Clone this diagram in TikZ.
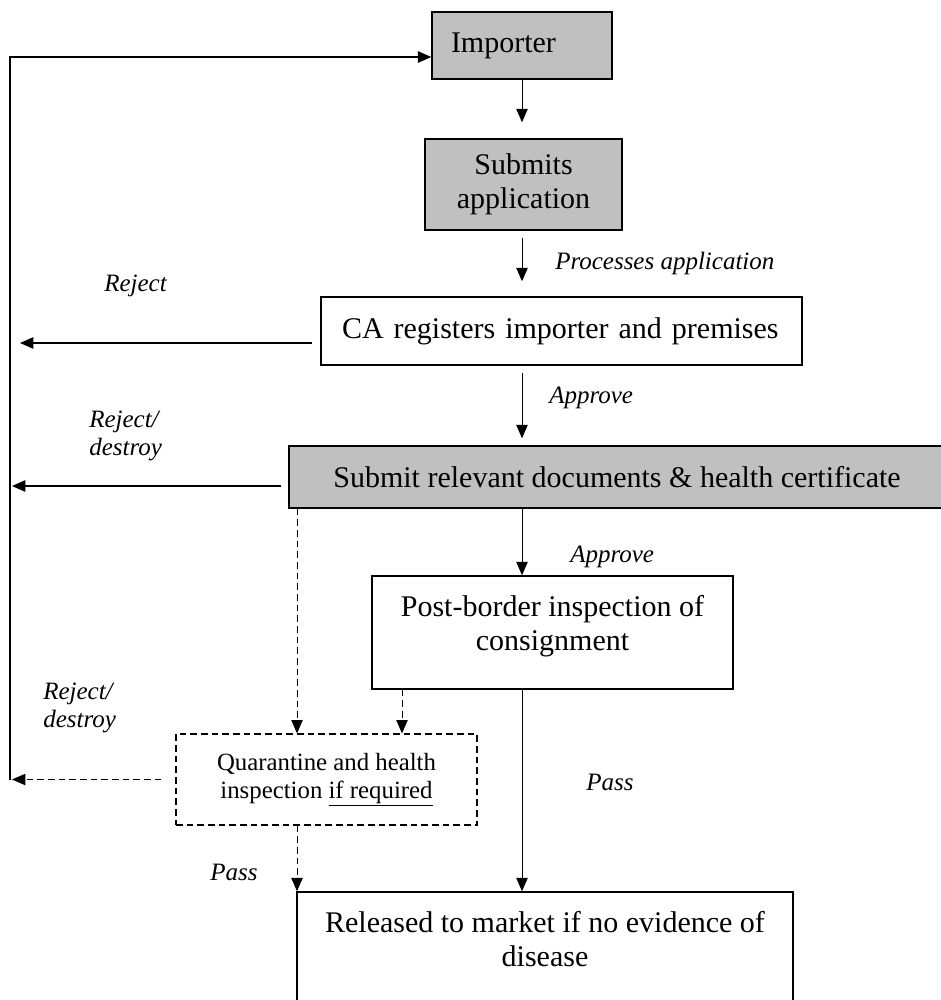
\documentclass[tikz,border=0pt]{standalone}
\usepackage{fontspec}
\setmainfont{Liberation Serif}
\usetikzlibrary{arrows.meta}
\definecolor{boxgrey}{RGB}{192,192,192}
\newcommand\mainsz{\fontsize{22.5pt}{25.5pt}\selectfont}
\newcommand\lblsz{\fontsize{18.75pt}{21pt}\selectfont}
\newcommand\qsz{\fontsize{18.6pt}{21pt}\selectfont}
\begin{document}
\begin{tikzpicture}[x=0.75pt,y=-0.75pt,
  box/.style={draw, line width=1.1pt, rectangle, inner sep=0pt, font=\mainsz, align=center},
  greybox/.style={box, fill=boxgrey},
  flow/.style={-{Triangle[length=10pt,width=8.5pt]}, line width=0.75pt},
  dflow/.style={flow, dash pattern=on 5pt off 3pt},
  rejflow/.style={-{Triangle[length=10pt,width=8.5pt]}, line width=1.2pt},
  lbl/.style={font=\lblsz\itshape, inner sep=0pt, anchor=west, align=left}]
\useasboundingbox (0,0) rectangle (940,1000);

% boxes
\node[greybox, align=left, text width=106.5pt, inner xsep=14.25pt, minimum height=50.25pt] (imp) at (522,45.5) {Importer};
\node[greybox, minimum width=147.75pt, minimum height=68.25pt] (sub) at (523.5,184.5) {Submits\\application};
\node[box, align=left, text width=329.25pt, inner xsep=15.75pt, minimum height=51pt] (ca) at (561.5,331) {CA registers importer and premises};
\node[greybox, minimum width=492pt, minimum height=46.5pt] (docs) at (617,477) {Submit relevant documents \& health certificate};
\node[box, minimum width=270.75pt, minimum height=84.75pt] (post) at (552.5,632.5) {Post-border inspection of\\consignment\rule[-15pt]{0pt}{15pt}};
\node[box, font=\qsz, line width=0.9pt, dash pattern=on 5pt off 3pt, minimum width=225.75pt, minimum height=68.25pt] (quar) at (326.5,779.5) {Quarantine and health\\inspection \underline{if required}};
\node[box, minimum width=372pt, minimum height=97.5pt] (rel) at (545,957) {Released to market if no evidence of\\disease\rule[-27.75pt]{0pt}{27.75pt}};

% helper coordinates
\coordinate (fbtop) at (10,57);
\coordinate (fbbot) at (10,780);
\coordinate (xl) at (297,0);
\coordinate (xm) at (402,0);
\coordinate (yca) at (0,343);
\coordinate (ydoc) at (0,486);

% feedback loop
\draw[rejflow] (fbbot) -- (fbtop) -- (imp.west |- fbtop);

% main vertical flow
\draw[flow, shorten >=12pt] (imp.south) -- (imp.south |- sub.north);
\draw[flow, shorten <=5.25pt, shorten >=11.25pt] (sub.south -| imp.south) -- (ca.north -| imp.south);
\draw[flow, shorten <=5.25pt, shorten >=5.25pt] (ca.south -| imp.south) -- (docs.north -| imp.south);
\draw[flow] (docs.south -| imp.south) -- (post.north -| imp.south);
\draw[flow] (post.south -| imp.south) -- (rel.north -| imp.south);

% dashed flows
\draw[dflow] (docs.south -| xl) -- (quar.north -| xl);
\draw[dflow] (post.south -| xm) -- (quar.north -| xm);
\draw[dflow] (quar.south -| xl) -- (rel.north -| xl);
\draw[dflow, shorten <=10.5pt, shorten >=1.5pt] (quar.west) -- (quar.west -| fbbot);

% reject arrows
\draw[rejflow, shorten <=6pt, shorten >=7.5pt] (ca.west |- yca) -- (fbtop |- yca);
\draw[rejflow, shorten <=5.25pt, shorten >=1.5pt] (docs.west |- ydoc) -- (fbtop |- ydoc);

% labels
\node[lbl] (lproc) at (555,263) {Processes application};
\node[lbl] (lrej1) at (104,286) {Reject};
\node[lbl] (lapp1) at (549,398) {Approve};
\node[lbl] (lrej2) at (89,436) {Reject/\\destroy};
\node[lbl] (lapp2) at (570,557) {Approve};
\node[lbl] (lrej3) at (43,707.5) {Reject/\\destroy};
\node[lbl] (lpass1) at (586,782) {Pass};
\node[lbl] (lpass2) at (210,872) {Pass};
\end{tikzpicture}
\end{document}
